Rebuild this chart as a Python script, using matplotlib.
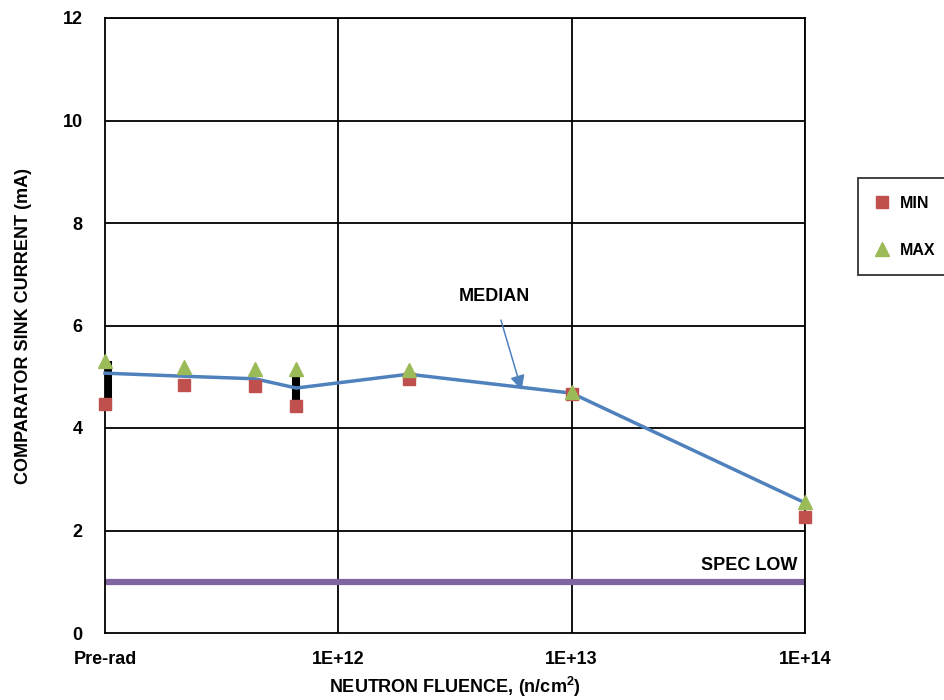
import matplotlib
matplotlib.use('Agg')
import matplotlib.pyplot as plt
import numpy as np

plt.rcParams['font.family'] = ['Liberation Sans', 'DejaVu Sans']
plt.rcParams['font.weight'] = 'bold'
plt.rcParams['mathtext.fontset'] = 'custom'
plt.rcParams['mathtext.rm'] = 'Liberation Sans:bold'
plt.rcParams['mathtext.bf'] = 'Liberation Sans:bold'

# fluence, n/cm^2 (pre-rad drawn at 1E+11)
fluence = [1e11, 2.18e11, 4.4e11, 6.6e11, 2.0e12, 1e13, 1e14]
minVals = [4.46, 4.84, 4.82, 4.43, 4.96, 4.66, 2.26]
maxVals = [5.31, 5.19, 5.15, 5.15, 5.13, 4.70, 2.56]
median  = [5.07, 5.01, 4.96, 4.78, 5.05, 4.68, 2.54]

# black range bars
barX  = [1.03e11, 6.6e11]
barLo = [4.45, 4.55]
barHi = [5.31, 5.03]

specLow = 1.0
xTicks = [1e11, 1e12, 1e13, 1e14]
xTickLabels = ['Pre-rad', '1E+12', '1E+13', '1E+14']
yTicks = [0, 2, 4, 6, 8, 10, 12]

fs = 13

fig = plt.figure(figsize=(9.45, 7), dpi=100)
ax = fig.add_axes([105/945, 67/700, 700/945, 615/700])

ax.set_xscale('log')
ax.set_xlim(1e11, 1e14)
ax.set_ylim(0, 12)

for y in yTicks[1:]:
    ax.axhline(y, color='black', lw=1.3, zorder=1)
for x in xTicks[1:]:
    ax.axvline(x, color='black', lw=1.3, zorder=1)
for s in ax.spines.values():
    s.set_linewidth(1.3)

ax.axhline(specLow, color='#8064A2', lw=4.5, zorder=2)
ax.text(9.24e13, 1.31, 'SPEC LOW', fontsize=fs, fontweight='bold',
        ha='right', va='center')

ax.vlines(barX, barLo, barHi, color='black', lw=5.8, zorder=3)
ax.plot(fluence, median, color='#4F81BD', lw=2.5, zorder=4, clip_on=False)
ax.plot(fluence, minVals, 's', color='#C0504D', ms=9, zorder=5,
        clip_on=False, label='MIN')
ax.plot(fluence, maxVals, '^', color='#9BBB59', ms=9.5, zorder=6,
        clip_on=False, label='MAX')

ax.annotate('MEDIAN', xy=(6.1e12, 4.74), xytext=(4.65e12, 6.56),
            fontsize=fs, fontweight='bold', ha='center', va='center',
            arrowprops=dict(arrowstyle='-|>', color='#4F81BD', lw=1.1,
                            mutation_scale=22, shrinkA=9, shrinkB=0))

ax.set_xticks(xTicks)
ax.set_xticklabels(xTickLabels)
ax.xaxis.set_minor_locator(plt.NullLocator())
ax.set_yticks(yTicks)
ax.tick_params(length=0, labelsize=fs)
for lab in ax.get_xticklabels() + ax.get_yticklabels():
    lab.set_fontweight('bold')
ax.tick_params(axis='x', pad=13)
ax.tick_params(axis='y', pad=16)

ax.set_xlabel(r'NEUTRON FLUENCE, (n/cm$^\mathbf{2}$)', fontsize=fs,
              fontweight='bold', labelpad=5)
ax.set_ylabel('COMPARATOR SINK CURRENT (mA)', fontsize=fs,
              fontweight='bold', labelpad=22)

leg = ax.legend(loc='upper left', bbox_to_anchor=(858/945, 1 - 178/700),
                bbox_transform=fig.transFigure, frameon=True, fancybox=False,
                edgecolor='black', fontsize=11.5, labelspacing=2.0,
                handlelength=0.8, handletextpad=0.7, borderpad=1.1,
                borderaxespad=0)
leg.get_frame().set_linewidth(1.3)
for t in leg.get_texts():
    t.set_fontweight('bold')

fig.savefig('out.png', dpi=100)
